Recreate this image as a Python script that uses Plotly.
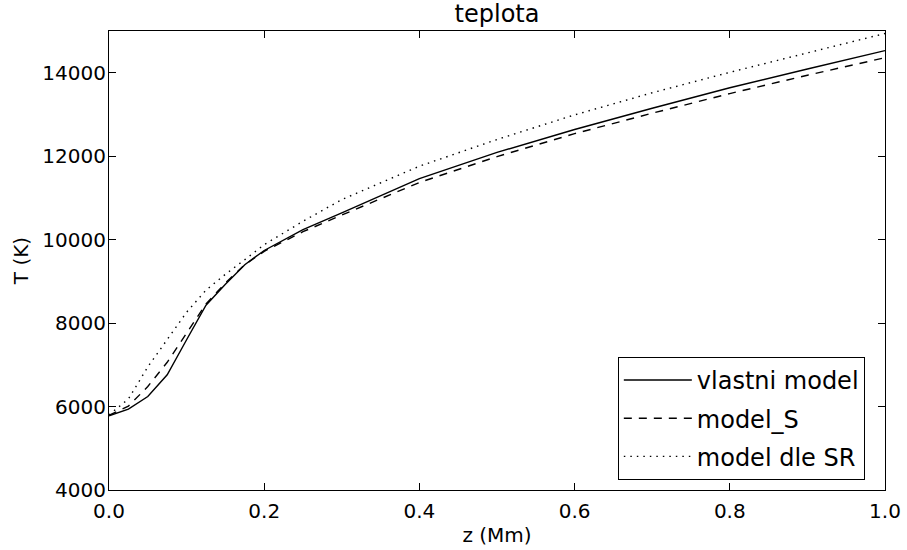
import plotly.graph_objects as go

# height above the base (Mm)
z = [0.0, 0.025, 0.05, 0.075, 0.1, 0.125, 0.15, 0.175, 0.2, 0.25, 0.3,
     0.4, 0.5, 0.6, 0.7, 0.8, 0.9, 1.0]

# temperature profiles (K)
t_vlastni = [5780, 5940, 6240, 6760, 7600, 8430, 8930, 9400, 9740, 10240, 10640,
             11460, 12090, 12640, 13150, 13640, 14090, 14530]
t_model_s = [5790, 6010, 6480, 7060, 7760, 8460, 8960, 9400, 9720, 10190, 10590,
             11370, 11990, 12540, 13030, 13500, 13940, 14360]
t_sr = [5800, 6180, 6950, 7620, 8260, 8790, 9170, 9520, 9880, 10440, 10960,
        11760, 12400, 12990, 13520, 14010, 14480, 14940]

x_ticks = [0, 0.2, 0.4, 0.6, 0.8, 1.0]
x_ticklabels = ["0.0", "0.2", "0.4", "0.6", "0.8", "1.0"]
y_ticks = [4000, 6000, 8000, 10000, 12000, 14000]
y_ticklabels = ["4000", "6000", "8000", "10000", "12000", "14000"]

series = [
    ("vlastni model", t_vlastni, "solid"),
    ("model_S", t_model_s, "8px,7px"),
    ("model dle SR", t_sr, "1.5px,5px"),
]

font = "DejaVu Sans, sans-serif"

fig = go.Figure()
for name, temps, dash in series:
    fig.add_trace(go.Scatter(
        x=z, y=temps, mode="lines", name=name, legendgroup=name,
        line=dict(color="black", width=1.4, dash=dash),
    ))

axis_common = dict(
    showline=True, mirror="allticks", linecolor="black", linewidth=1.2,
    ticks="inside", ticklen=7, tickwidth=1, tickcolor="black",
    showgrid=False, zeroline=False, automargin=False,
    tickfont=dict(family=font, size=20, color="black"),
)

fig.update_layout(
    width=907, height=550,
    margin=dict(l=109, r=22, t=31, b=60),
    paper_bgcolor="white", plot_bgcolor="white",
    title=dict(text="teplota", xref="paper", x=0.5, xanchor="center",
               y=0.975, yanchor="middle",
               font=dict(family=font, size=24, color="black")),
    xaxis=dict(range=[0, 1], tickvals=x_ticks, ticktext=x_ticklabels,
               ticklabelstandoff=3,
               title=dict(text="z (Mm)", standoff=5,
                          font=dict(family=font, size=20, color="black")),
               **axis_common),
    yaxis=dict(range=[4000, 15000], tickvals=y_ticks, ticktext=y_ticklabels,
               ticklabelstandoff=-2,
               title=dict(text="T (K)", standoff=8,
                          font=dict(family=font, size=20, color="black")),
               **axis_common),
    legend=dict(x=0.974, y=0.022, xanchor="right", yanchor="bottom",
                bordercolor="black", borderwidth=1, bgcolor="white",
                font=dict(family=font, size=24, color="black"),
                itemwidth=68, tracegroupgap=4, traceorder="grouped"),
    showlegend=True,
)

fig.write_html("out.html")
